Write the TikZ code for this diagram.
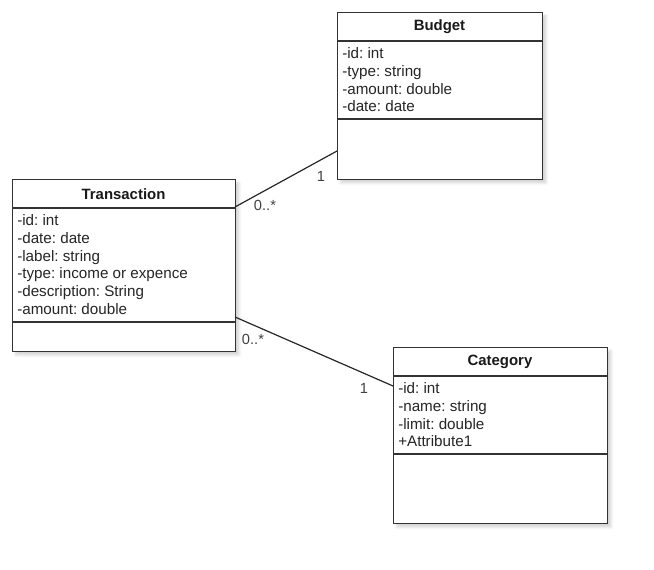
\documentclass[tikz,border=0pt]{standalone}
\usepackage{fontspec}
\setmainfont{Liberation Sans}
\usetikzlibrary{shadows.blur}
\frenchspacing

\tikzset{
  classbox/.style={draw=black!80, fill=white, line width=0.9pt, anchor=north west, inner sep=0pt,
    blur shadow={shadow xshift=2.5pt, shadow yshift=-2.5pt, shadow blur steps=5, shadow opacity=18}},
  classname/.style={font=\bfseries\fontsize{11.2}{13}\selectfont, text=black!90},
  attrs/.style={anchor=north west, inner sep=0pt, align=left, text=black!85,
    font=\fontsize{11.4}{13.3}\selectfont},
  mult/.style={inner sep=0pt, text=black!75, font=\fontsize{11}{13}\selectfont},
  assoc/.style={draw=black!85, line width=0.9pt}
}

\begin{document}
\begin{tikzpicture}[x=0.75pt,y=-0.75pt]
				\useasboundingbox (0,0) rectangle (654,570);
				
				% classes
				\node (trans) [classbox, minimum width=223*0.75pt, minimum height=172*0.75pt] at (12,179) {};
				\node (budget) [classbox, minimum width=205*0.75pt, minimum height=167*0.75pt] at (337,12) {};
				\node (categ) [classbox, minimum width=214*0.75pt, minimum height=176*0.75pt] at (393,347) {};
				
				\draw[draw=black!80, line width=0.9pt] (12,208) -- (235,208) (12,322) -- (235,322);
				\draw[draw=black!80, line width=0.9pt] (337,41) -- (542,41) (337,119) -- (542,119);
				\draw[draw=black!80, line width=0.9pt] (393,376) -- (607,376) (393,454) -- (607,454);
				
				\node (transname) [classname] at (123.5,194) {Transaction};
				\node (budgetname) [classname] at (439.5,27) {Budget};
				\node (categname) [classname] at (500,362) {Category};
				
				\node (transattr) [attrs] at (17,214.5) {-id: int\\-date: date\\-label: string\\-type: income or expence\\-description: String\\-amount: double};
				\node (budgetattr) [attrs] at (342,47.5) {-id: int\\-type: string\\-amount: double\\-date: date};
				\node (categattr) [attrs] at (398,382.5) {-id: int\\-name: string\\-limit: double\\+Attribute1};
				
				% associations
				\coordinate (tb) at (235,207);
				\coordinate (bt) at (337,151);
				\coordinate (tc) at (235,317);
				\coordinate (ct) at (393,386);
				\draw[assoc] (tb) -- (bt);
				\draw[assoc] (tc) -- (ct);
				
				\node (m1) [mult] at (265,205) {0..*};
				\node (m2) [mult] at (321,176) {1};
				\node (m3) [mult] at (253,339) {0..*};
				\node (m4) [mult] at (364,388) {1};
			\end{tikzpicture}
\end{document}
